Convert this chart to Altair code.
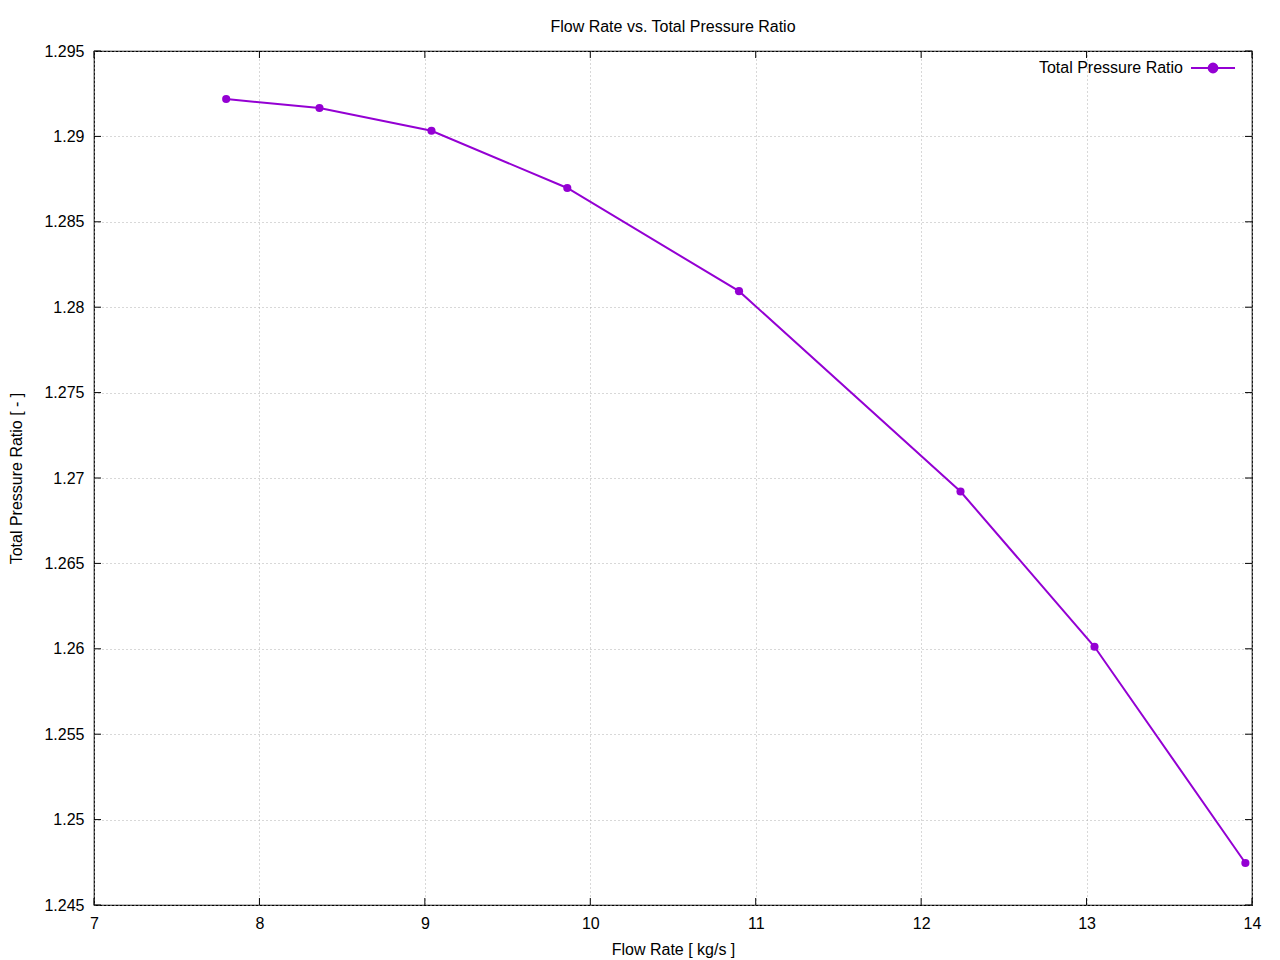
import altair as alt
import pandas as pd

flow_rate = [7.799, 8.363, 9.040, 9.861, 10.899, 12.238, 13.048, 13.960]
pressure_ratio = [1.29219, 1.29166, 1.29033, 1.28698, 1.28094, 1.26921, 1.26012, 1.24746]
series_name = "Total Pressure Ratio"
x_ticks = [7, 8, 9, 10, 11, 12, 13, 14]
y_ticks = [1.245, 1.25, 1.255, 1.26, 1.265, 1.27, 1.275, 1.28, 1.285, 1.29, 1.295]

W, H = 1158, 854
FONT = "Liberation Sans"
COLOR = "#9400D3"

df = pd.DataFrame({"x": flow_rate, "y": pressure_ratio, "series": series_name})
xt = pd.DataFrame({"x": x_ticks})
yt = pd.DataFrame({"y": y_ticks})

xscale = alt.Scale(domain=[7, 14], nice=False, zero=False)
yscale = alt.Scale(domain=[1.245, 1.295], nice=False, zero=False)

xaxis = alt.Axis(values=x_ticks, title="Flow Rate [ kg/s ]", ticks=False, domain=False,
                 grid=True, gridDash=[1, 3], gridColor="#b0b0b0", gridWidth=1,
                 labelFont=FONT, labelFontSize=16, labelColor="#000", labelPadding=10,
                 titleFont=FONT, titleFontSize=16, titleFontWeight="normal", titleColor="#000",
                 titlePadding=10, format="d", labelFlush=False)
yaxis = alt.Axis(values=y_ticks, title="Total Pressure Ratio [ - ]", ticks=False, domain=False,
                 grid=True, gridDash=[1, 3], gridColor="#b0b0b0", gridWidth=1,
                 labelFont=FONT, labelFontSize=16, labelColor="#000", labelPadding=10,
                 titleFont=FONT, titleFontSize=16, titleFontWeight="normal", titleColor="#000",
                 titlePadding=19, format="~g", labelFlush=False)

sym_path = ("M1.41,0L3.41,0M2.61,0A0.2,0.2,0,1,1,2.21,0A0.2,0.2,0,1,1,2.61,0")

color = alt.Color("series:N",
                  scale=alt.Scale(domain=[series_name], range=[COLOR]),
                  legend=alt.Legend(title=None, orient="none", legendX=1043, legendY=-6,
                                    symbolType=sym_path,
                                    symbolSize=1936, symbolStrokeWidth=2, symbolFillColor=COLOR,
                                    symbolStrokeColor=COLOR,
                                    labelFont=FONT, labelFontSize=16, labelColor="#000",
                                    labelAlign="right", labelOffset=0, padding=0))

base = alt.Chart(df)
line = base.mark_line(strokeWidth=2).encode(
    x=alt.X("x:Q", scale=xscale, axis=xaxis),
    y=alt.Y("y:Q", scale=yscale, axis=yaxis),
    color=color,
)
points = base.mark_point(filled=True, size=66, opacity=1, shape="circle").encode(
    x=alt.X("x:Q", scale=xscale),
    y=alt.Y("y:Q", scale=yscale),
    color=alt.Color("series:N", scale=alt.Scale(domain=[series_name], range=[COLOR]), legend=None),
)

tick_len = 7
y_left = alt.Chart(yt).mark_rule(color="black", strokeWidth=1).encode(
    y=alt.Y("y:Q", scale=yscale), x=alt.value(0), x2=alt.value(tick_len))
y_right = alt.Chart(yt).mark_rule(color="black", strokeWidth=1).encode(
    y=alt.Y("y:Q", scale=yscale), x=alt.value(W - tick_len), x2=alt.value(W))
x_bottom = alt.Chart(xt).mark_rule(color="black", strokeWidth=1).encode(
    x=alt.X("x:Q", scale=xscale), y=alt.value(H), y2=alt.value(H - tick_len))
x_top = alt.Chart(xt).mark_rule(color="black", strokeWidth=1).encode(
    x=alt.X("x:Q", scale=xscale), y=alt.value(0), y2=alt.value(tick_len))

chart = alt.layer(y_left, y_right, x_bottom, x_top, line, points).properties(
    width=W, height=H,
    background="white",
    title=alt.TitleParams("Flow Rate vs. Total Pressure Ratio", font=FONT, fontSize=16,
                          fontWeight="normal", color="#000", anchor="middle", offset=8),
    autosize=alt.AutoSizeParams(type="none"),
    padding={"left": 86, "top": 43, "right": 20, "bottom": 56},
).configure_view(stroke="black", strokeWidth=1.2)

chart.save("out.html", embed_options={"renderer": "svg", "actions": False})
